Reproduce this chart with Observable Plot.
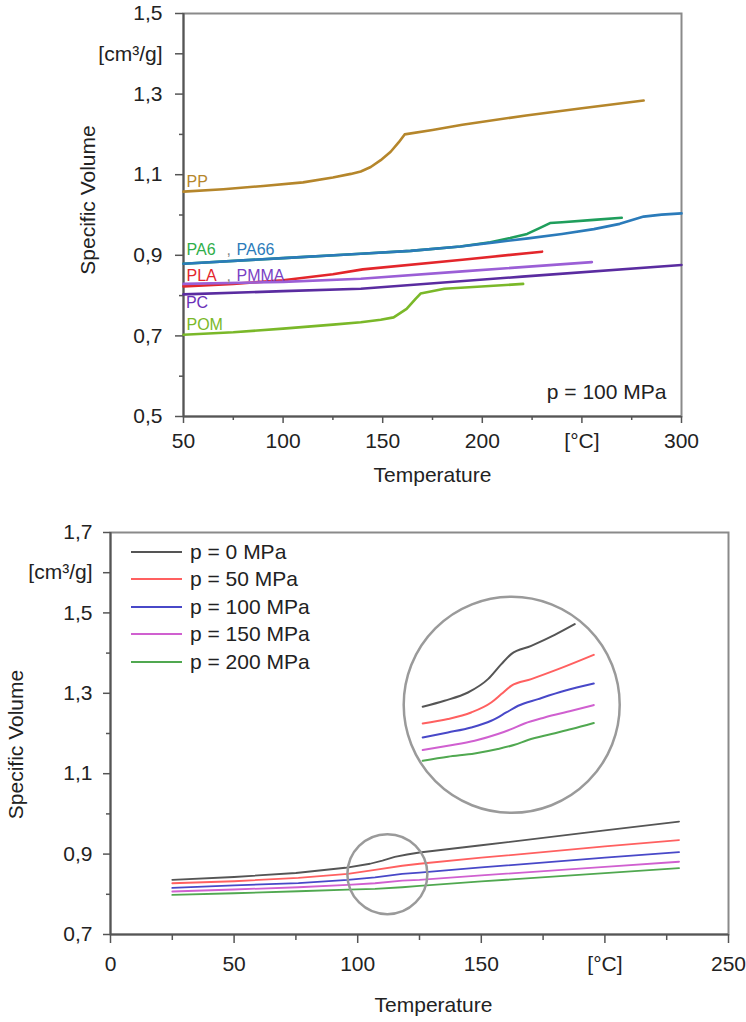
<!DOCTYPE html>
<html><head><meta charset="utf-8">
<script src="https://cdn.jsdelivr.net/npm/d3@7"></script>
<script src="https://cdn.jsdelivr.net/npm/@observablehq/plot@0.6"></script>
<style>
body{margin:0;background:#fff;}
#wrap{position:relative;width:746px;height:1022px;font-family:"Liberation Sans",Arial,sans-serif;background:#fff;}
#top{position:absolute;left:0;top:0;}
#bottom{position:absolute;left:0;top:505px;}
#legend{position:absolute;left:131px;top:538px;}
.row{height:27.5px;display:flex;align-items:center;font-size:21px;color:#222;white-space:nowrap;}
.sw{width:51px;height:2px;margin-right:8px;}
</style></head>
<body><div id="wrap"><div id="top"></div><div id="bottom"></div><div id="legend"></div></div>
<script>
// ---------- Top chart data (p = 100 MPa), [Temperature °C, Specific volume cm3/g]
const PP   = [[50,1.058],[70,1.064],[90,1.072],[110,1.081],[125,1.093],[134,1.102],[139,1.108],[144,1.119],[149,1.136],[154,1.157],[158,1.180],[161,1.200],[175,1.211],[190,1.224],[222,1.247],[250,1.265],[281,1.284]];
const PA6  = [[50,0.879],[100,0.893],[139,0.904],[164,0.911],[189,0.922],[204,0.9325],[214,0.943],[222.5,0.953],[229,0.968],[234,0.980],[240,0.982],[256,0.988],[270,0.993]];
const PA66 = [[50,0.879],[100,0.893],[139,0.904],[164,0.911],[189,0.922],[206,0.932],[223,0.942],[240,0.953],[256,0.965],[269,0.978],[281,0.996],[290,1.001],[300,1.004]];
const PLA  = [[50,0.823],[60,0.825],[75,0.829],[100,0.838],[125,0.853],[140,0.865],[190,0.889],[230,0.909]];
const PMMA = [[50,0.829],[100,0.834],[139,0.842],[190,0.860],[255,0.883]];
const PC   = [[50,0.803],[100,0.811],[139,0.817],[220,0.847],[300,0.876]];
const POM  = [[50,0.703],[75,0.709],[100,0.718],[125,0.728],[139,0.734],[149,0.740],[155.5,0.746],[162,0.767],[166.5,0.792],[169,0.805],[181,0.817],[220.5,0.829]];

const topSeries = [["PA6",PA6],["PA66",PA66],["PP",PP],["PLA",PLA],["PMMA",PMMA],["PC",PC],["POM",POM]];
const labelText = ["PP","PA6",",","PA66","PLA",",","PMMA","PC","POM"];
const labelT    = [51.5,51.5,71.6,76.6,51.5,71.6,76.6,51.2,51.5];
const labelV    = [1.082,0.914,0.914,0.914,0.849,0.849,0.849,0.782,0.728];

const topYTicks = [0.5,0.7,0.9,1.1,1.3,1.4,1.5];
const topYTickLabels = ["0,5","0,7","0,9","1,1","1,3","[cm³/g]","1,5"];
const topYMinor = [0.6,0.8,1.0,1.2];
const topXTicks = [50,100,150,200,250,300];
const topXTickLabels = ["50","100","150","200","[°C]","300"];
const topXMinor = [75,125,175,225,275];

// ---------- Bottom chart data (pressures), [Temperature °C, Specific volume cm3/g]
const pressures = ["p = 0 MPa","p = 50 MPa","p = 100 MPa","p = 150 MPa","p = 200 MPa"];
const p0   = [[25,0.836],[50,0.843],[75,0.853],[95,0.866],[105,0.876],[110,0.884],[115,0.893],[120,0.899],[125,0.904],[150,0.922],[200,0.959],[230,0.981]];
const p50  = [[25,0.8275],[50,0.8325],[76,0.841],[96,0.851],[107,0.861],[118,0.871],[125,0.876],[150,0.891],[200,0.919],[230,0.935]];
const p100 = [[25,0.816],[50,0.822],[76,0.828],[96,0.836],[107,0.842],[118,0.851],[125,0.854],[150,0.867],[200,0.891],[230,0.905]];
const p150 = [[25,0.807],[50,0.812],[76,0.8175],[96,0.8235],[107,0.8275],[118,0.834],[125,0.836],[150,0.847],[200,0.868],[230,0.881]];
const p200 = [[25,0.7986],[50,0.8026],[76,0.8076],[96,0.8118],[107,0.8135],[118,0.8175],[125,0.821],[150,0.832],[200,0.8525],[230,0.865]];
// magnified inset curves (as drawn in the chart's coordinates)
const z0   = [[126.3,1.2665],[135.1,1.2814],[144.6,1.302],[152.7,1.3353],[158.1,1.3726],[162.1,1.3974],[170.2,1.418],[179.7,1.4453],[187.8,1.472]];
const z50  = [[126.3,1.225],[136.5,1.236],[145.9,1.2523],[154,1.277],[158.1,1.298],[162.1,1.3186],[170.2,1.3353],[181.1,1.36],[195.5,1.3957]];
const z100 = [[126.3,1.19],[136.5,1.2026],[145.9,1.215],[154,1.2317],[160.1,1.2523],[164.9,1.269],[173,1.2856],[183.7,1.3062],[195.5,1.3243]];
const z150 = [[126.3,1.1589],[136.5,1.1696],[147.3,1.182],[156.7,1.1986],[162.1,1.211],[167.5,1.225],[175.6,1.2399],[186.5,1.2565],[195.5,1.2707]];
const z200 = [[126.3,1.1323],[136.5,1.1422],[147.3,1.1504],[156.7,1.1614],[163.5,1.172],[168.9,1.1837],[178.4,1.1986],[186.5,1.211],[195.5,1.226]];
const circleT = [112, 162.3];
const circleV = [0.85, 1.2714];

const botYTicks = [0.7,0.9,1.1,1.3,1.5,1.6,1.7];
const botYTickLabels = ["0,7","0,9","1,1","1,3","1,5","[cm³/g]","1,7"];
const botYMinor = [0.8,1.0,1.2,1.4];
const botXTicks = [0,50,100,150,200,250];
const botXTickLabels = ["0","50","100","150","[°C]","250"];
const botXMinor = [25,75,125,175,225];

// ---------- styles
const FONT = "'Liberation Sans', Arial, Helvetica, sans-serif";
const topColors = {PP:"#b5862b",PA6:"#1f9e5c",PA66:"#2b7bba",PLA:"#e3262b",PMMA:"#9b5fd6",PC:"#5a2ca0",POM:"#7ab829",",":"#8a8a8a"};
const labelColors = {PP:"#b5862b",PA6:"#2fae4a",PA66:"#2b7bba",PLA:"#e3262b",PMMA:"#7a3fc4",PC:"#6a2fb8",POM:"#7ab829",",":"#8a8a8a"};
const botColors = ["#555555","#ff6060","#4848c8","#d060d0","#50a850"];

const topYMap = new Map(topYTicks.map((d,i)=>[d,topYTickLabels[i]]));
const topXMap = new Map(topXTicks.map((d,i)=>[d,topXTickLabels[i]]));
const botYMap = new Map(botYTicks.map((d,i)=>[d,botYTickLabels[i]]));
const botXMap = new Map(botXTicks.map((d,i)=>[d,botXTickLabels[i]]));

const labels = labelText.map((t,i)=>({t, T:labelT[i], V:labelV[i]}));

const topPlot = Plot.plot({
  width: 746, height: 505,
  marginLeft: 183, marginRight: 65, marginTop: 13, marginBottom: 89,
  x: {domain: [50, 300]},
  y: {domain: [0.5, 1.5]},
  style: {fontFamily: FONT, fontSize: "21px", color: "#222", background: "white", overflow: "visible"},
  marks: [
    Plot.frame({stroke: "#8a8a8a", strokeWidth: 2}),
    Plot.ruleX([50], {stroke: "#555", strokeWidth: 2}),
    Plot.ruleY([0.5], {stroke: "#555", strokeWidth: 2}),
    Plot.axisY(topYTicks, {tickSize: 8, tickPadding: 13, tickFormat: d => topYMap.get(d), label: null, fontSize: 21, stroke: "#555", strokeWidth: 1.5}),
    Plot.axisY(topYMinor, {tickSize: 4, tickFormat: () => "", label: null, stroke: "#555", strokeWidth: 1.5}),
    Plot.axisX(topXTicks, {tickSize: 7, tickPadding: 10, tickFormat: d => topXMap.get(d), label: null, fontSize: 21, stroke: "#555", strokeWidth: 1.5}),
    Plot.axisX(topXMinor, {tickSize: 4, tickFormat: () => "", label: null, stroke: "#555", strokeWidth: 1.5}),
    ...topSeries.map(([name, data]) => Plot.line(data, {x: d => d[0], y: d => d[1], stroke: topColors[name], strokeWidth: 2.6})),
    Plot.text(labels, {x: "T", y: "V", text: "t", fill: d => labelColors[d.t], textAnchor: "start", lineAnchor: "middle", fontSize: 16}),
    Plot.text(["p = 100 MPa"], {frameAnchor: "bottom-right", dx: -15, dy: -24, textAnchor: "end", lineAnchor: "middle", fontSize: 21, fill: "#222"}),
    Plot.text(["Temperature"], {frameAnchor: "bottom", dy: 59, textAnchor: "middle", lineAnchor: "middle", fontSize: 21, fill: "#222"}),
    Plot.text(["Specific Volume"], {frameAnchor: "left", dx: -95, dy: -15, rotate: -90, textAnchor: "middle", lineAnchor: "middle", fontSize: 21, fill: "#222"})
  ]
});
document.getElementById("top").appendChild(topPlot);

const botSeries = [p0, p50, p100, p150, p200];
const zoomSeries = [z0, z50, z100, z150, z200];
const circles = circleT.map((T,i)=>({T, V: circleV[i]}));

const botPlot = Plot.plot({
  width: 746, height: 517,
  marginLeft: 110, marginRight: 18, marginTop: 27, marginBottom: 88,
  x: {domain: [0, 250]},
  y: {domain: [0.7, 1.7]},
  style: {fontFamily: FONT, fontSize: "21px", color: "#222", background: "white", overflow: "visible"},
  marks: [
    Plot.frame({stroke: "#8a8a8a", strokeWidth: 2}),
    Plot.ruleX([0], {stroke: "#555", strokeWidth: 2}),
    Plot.ruleY([0.7], {stroke: "#555", strokeWidth: 2}),
    Plot.axisY(botYTicks, {tickSize: 7, tickPadding: 11, tickFormat: d => botYMap.get(d), label: null, fontSize: 21, stroke: "#555", strokeWidth: 1.5}),
    Plot.axisY(botYMinor, {tickSize: 4, tickFormat: () => "", label: null, stroke: "#555", strokeWidth: 1.5}),
    Plot.axisX(botXTicks, {tickSize: 9, tickPadding: 13, tickFormat: d => botXMap.get(d), label: null, fontSize: 21, stroke: "#555", strokeWidth: 1.5}),
    Plot.axisX(botXMinor, {tickSize: 6, tickFormat: () => "", label: null, stroke: "#555", strokeWidth: 1.5}),
    ...botSeries.map((data, i) => Plot.line(data, {x: d => d[0], y: d => d[1], stroke: botColors[i], strokeWidth: 1.8})),
    ...zoomSeries.map((data, i) => Plot.line(data, {x: d => d[0], y: d => d[1], stroke: botColors[i], strokeWidth: 2, curve: "monotone-x"})),
    Plot.dot(circles.slice(0,1), {x: "T", y: "V", r: 40, stroke: "#9a9a9a", strokeWidth: 2.5, fill: "none"}),
    Plot.dot(circles.slice(1), {x: "T", y: "V", r: 108, stroke: "#9a9a9a", strokeWidth: 2.5, fill: "none"}),
    Plot.text(["Temperature"], {frameAnchor: "bottom", dx: 14, dy: 71, textAnchor: "middle", lineAnchor: "middle", fontSize: 21, fill: "#222"}),
    Plot.text(["Specific Volume"], {frameAnchor: "left", dx: -94, dy: 11, rotate: -90, textAnchor: "middle", lineAnchor: "middle", fontSize: 21, fill: "#222"})
  ]
});
document.getElementById("bottom").appendChild(botPlot);

// legend
const leg = document.getElementById("legend");
pressures.forEach((p, i) => {
  const row = document.createElement("div");
  row.className = "row";
  const sw = document.createElement("div");
  sw.className = "sw";
  sw.style.background = botColors[i];
  const tx = document.createElement("span");
  tx.textContent = p;
  row.appendChild(sw); row.appendChild(tx);
  leg.appendChild(row);
});
</script>
</body></html>
